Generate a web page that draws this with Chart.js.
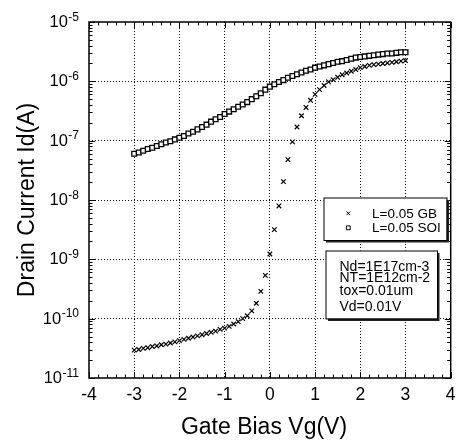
<!DOCTYPE html>
<html><head><meta charset="utf-8">
<script src="https://cdn.jsdelivr.net/npm/chart.js@4.4.0/dist/chart.umd.min.js"></script>
<style>html,body{margin:0;padding:0;background:#fff;overflow:hidden}#wrap{width:456px;height:441px;position:relative}</style>
</head><body><div id="wrap"><canvas id="c" width="456" height="441"></canvas></div>
<script>
// ---- data ----
const gateBias = [-3.0,-2.9,-2.8,-2.7,-2.6,-2.5,-2.4,-2.3,-2.2,-2.1,-2.0,-1.9,-1.8,-1.7,-1.6,-1.5,-1.4,-1.3,-1.2,-1.1,-1.0,-0.9,-0.8,-0.7,-0.6,-0.5,-0.4,-0.3,-0.2,-0.1,0.0,0.1,0.2,0.3,0.4,0.5,0.6,0.7,0.8,0.9,1.0,1.1,1.2,1.3,1.4,1.5,1.6,1.7,1.8,1.9,2.0,2.1,2.2,2.3,2.4,2.5,2.6,2.7,2.8,2.9,3.0];
const gbCurrent = [2.95e-11,3.02e-11,3.16e-11,3.24e-11,3.39e-11,3.47e-11,3.63e-11,3.72e-11,3.89e-11,4.07e-11,4.27e-11,4.47e-11,4.68e-11,4.90e-11,5.13e-11,5.37e-11,5.62e-11,5.89e-11,6.17e-11,6.61e-11,6.92e-11,7.41e-11,8.13e-11,8.91e-11,1.00e-10,1.12e-10,1.35e-10,1.82e-10,2.88e-10,5.37e-10,1.23e-9,3.16e-9,7.94e-9,2.04e-8,4.79e-8,9.55e-8,1.70e-7,2.63e-7,3.63e-7,4.79e-7,6.03e-7,7.24e-7,8.51e-7,9.77e-7,1.07e-6,1.17e-6,1.29e-6,1.38e-6,1.48e-6,1.58e-6,1.70e-6,1.78e-6,1.86e-6,1.91e-6,1.95e-6,2.00e-6,2.04e-6,2.09e-6,2.14e-6,2.19e-6,2.24e-6];
const soiCurrent = [6.03e-8,6.31e-8,6.76e-8,7.24e-8,7.59e-8,8.13e-8,8.71e-8,9.33e-8,9.77e-8,1.05e-7,1.12e-7,1.20e-7,1.32e-7,1.41e-7,1.55e-7,1.70e-7,1.86e-7,2.09e-7,2.29e-7,2.51e-7,2.82e-7,3.09e-7,3.39e-7,3.72e-7,4.07e-7,4.47e-7,5.01e-7,5.62e-7,6.31e-7,7.24e-7,8.13e-7,8.91e-7,9.77e-7,1.05e-6,1.15e-6,1.23e-6,1.32e-6,1.41e-6,1.51e-6,1.58e-6,1.70e-6,1.78e-6,1.86e-6,1.95e-6,2.04e-6,2.14e-6,2.19e-6,2.29e-6,2.40e-6,2.51e-6,2.57e-6,2.63e-6,2.69e-6,2.75e-6,2.82e-6,2.88e-6,2.95e-6,2.95e-6,3.02e-6,3.09e-6,3.09e-6];
const seriesLabels = ['L=0.05 GB','L=0.05 SOI'];
const xTickValues = [-4,-3,-2,-1,0,1,2,3,4];
const xTickLabels = ['-4','-3','-2','-1','0','1','2','3','4'];
const yTickValues = [1e-11,1e-10,1e-9,1e-8,1e-7,1e-6,1e-5];
const yTickExponents = ['-11','-10','-9','-8','-7','-6','-5'];
const xTitle = 'Gate Bias Vg(V)';
const yTitle = 'Drain Current Id(A)';
const noteLines = ['Nd=1E17cm-3','NT=1E12cm-2','tox=0.01um','Vd=0.01V'];

const FONT = "'Liberation Sans', Arial, Helvetica, sans-serif";

const decor = {
  id:'decor',
  afterDraw(chart){
    const ctx = chart.ctx, a = chart.chartArea;
    const xs = chart.scales.x, ys = chart.scales.y;
    ctx.save();
    // frame
    ctx.strokeStyle = '#000'; ctx.lineWidth = 1.5;
    ctx.strokeRect(a.left, a.top, a.right - a.left, a.bottom - a.top);
    // x minor/major tick marks (bottom & top, inward)
    ctx.lineWidth = 1;
    ctx.beginPath();
    for (let i = 0; i <= 40; i++) {
      const v = xs.min + i * 0.2;
      const px = Math.round(xs.getPixelForValue(v)) + 0.5;
      const major = (i % 5 === 0);
      const len = major ? 6 : 3.5;
      ctx.moveTo(px, a.bottom); ctx.lineTo(px, a.bottom - len);
      ctx.moveTo(px, a.top); ctx.lineTo(px, a.top + len);
    }
    // y log ticks (left & right, inward)
    for (let k = 0; k < yTickValues.length; k++) {
      const base = yTickValues[k];
      for (let m = 1; m <= 9; m++) {
        const v = base * m;
        if (v > ys.max * 1.0001) break;
        const py = Math.round(ys.getPixelForValue(v)) + 0.5;
        const len = (m === 1) ? 6 : 3.5;
        ctx.moveTo(a.left, py); ctx.lineTo(a.left + len, py);
        ctx.moveTo(a.right, py); ctx.lineTo(a.right - len, py);
      }
    }
    ctx.stroke();

    // x tick labels
    ctx.fillStyle = '#000';
    ctx.font = '17.5px ' + FONT;
    ctx.textAlign = 'center'; ctx.textBaseline = 'alphabetic';
    xTickValues.forEach((v, i) => {
      ctx.fillText(xTickLabels[i], xs.getPixelForValue(v), 400);
    });
    // y tick labels with superscript exponent
    yTickValues.forEach((v, i) => {
      const py = ys.getPixelForValue(v);
      ctx.font = '16.5px ' + FONT;
      const w1 = ctx.measureText('10').width;
      ctx.font = '12px ' + FONT;
      const w2 = ctx.measureText(yTickExponents[i]).width;
      const right = 79;
      ctx.textAlign = 'left';
      ctx.font = '16.5px ' + FONT;
      ctx.fillText('10', right - w1 - w2 - 0.5, py + 5);
      ctx.font = '12px ' + FONT;
      ctx.fillText(yTickExponents[i], right - w2, py - 1.5);
    });
    // axis titles
    ctx.font = '23px ' + FONT;
    ctx.textAlign = 'center';
    ctx.fillText(xTitle, 264, 434);
    ctx.save();
    ctx.translate(33.5, 200);
    ctx.rotate(-Math.PI / 2);
    ctx.fillText(yTitle, 0, 0);
    ctx.restore();

    // legend box
    const box = (x1, y1, x2, y2) => {
      ctx.fillStyle = '#222';
      ctx.fillRect(x1 + 2.5, y1 + 2.5, x2 - x1, y2 - y1);
      ctx.fillStyle = '#fff';
      ctx.fillRect(x1, y1, x2 - x1, y2 - y1);
      ctx.strokeStyle = '#000'; ctx.lineWidth = 1;
      ctx.strokeRect(x1 + 0.5, y1 + 0.5, x2 - x1, y2 - y1);
    };
    box(323.5, 197.5, 446.5, 240);
    const dss = chart.data.datasets;
    const legY = [213.3, 227.8];
    const legBase = [218.3, 232.3];
    dss.forEach((ds, i) => {
      ctx.strokeStyle = '#000'; ctx.fillStyle = '#fff'; ctx.lineWidth = 1;
      Chart.helpers.drawPoint(ctx, {pointStyle: ds.pointStyle, radius: ds.pointRadius * 0.8, borderWidth: 1}, 348.3, legY[i]);
      ctx.fillStyle = '#000';
      ctx.font = '13.5px ' + FONT;
      ctx.textAlign = 'left';
      ctx.fillText(seriesLabels[i], 372, legBase[i]);
    });
    // notes box
    box(325.5, 250.5, 437, 318.5);
    ctx.fillStyle = '#000';
    ctx.font = '14px ' + FONT;
    ctx.textAlign = 'left';
    const noteBase = [270.5, 282, 294.5, 311];
    noteLines.forEach((t, i) => ctx.fillText(t, 339.5, noteBase[i]));
    ctx.restore();
  }
};

const gridColor = (lim) => (c) => {
  if (!c.tick) return 'rgba(0,0,0,0)';
  return lim(c.tick.value) ? '#111' : 'rgba(0,0,0,0)';
};

new Chart(document.getElementById('c'), {
  type: 'scatter',
  data: {
    datasets: [
      {label: seriesLabels[0], data: gateBias.map((x, i) => ({x: x, y: gbCurrent[i]})),
       pointStyle: 'crossRot', pointRadius: 3.2, pointBorderWidth: 1.2, borderColor: '#000', backgroundColor: '#000', showLine: false},
      {label: seriesLabels[1], data: gateBias.map((x, i) => ({x: x, y: soiCurrent[i]})),
       pointStyle: 'rect', pointRadius: 3.4, pointBorderWidth: 1.3, borderColor: '#000', backgroundColor: '#fff', showLine: false}
    ]
  },
  options: {
    responsive: false, animation: false, devicePixelRatio: 1,
    layout: {padding: {left: 89, right: 3, top: 22, bottom: 63}},
    plugins: {legend: {display: false}, tooltip: {enabled: false}},
    scales: {
      x: {type: 'linear', min: -4, max: 4,
          afterBuildTicks: s => { s.ticks = xTickValues.map(v => ({value: v})); },
          ticks: {display: false},
          grid: {drawTicks: false, lineWidth: 1, color: gridColor(v => Math.abs(v) < 3.5)},
          border: {display: false, dash: [1, 2]}},
      y: {type: 'logarithmic', min: 1e-11, max: 1e-5,
          afterBuildTicks: s => { s.ticks = yTickValues.map(v => ({value: v})); },
          ticks: {display: false},
          grid: {drawTicks: false, lineWidth: 1, color: gridColor(v => v > 1.5e-11 && v < 0.7e-5)},
          border: {display: false, dash: [1, 2]}}
    }
  },
  plugins: [decor]
});
</script></body></html>
